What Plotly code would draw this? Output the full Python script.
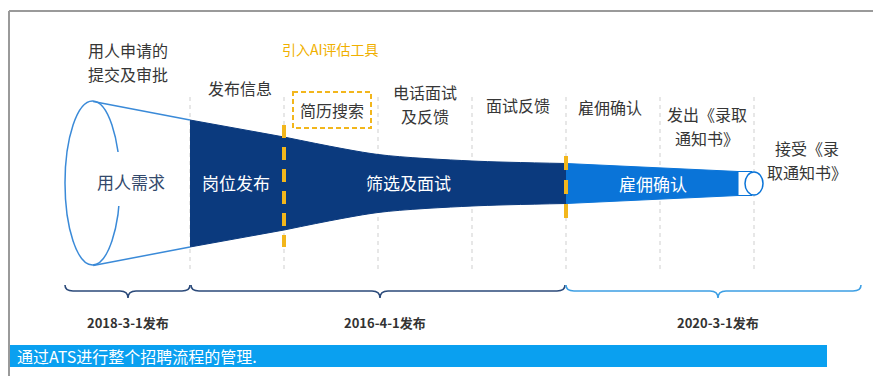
import plotly.graph_objects as go

# ---------------- data ----------------
step_labels = ["用人申请的<br>提交及审批", "发布信息", "简历搜索", "电话面试<br>及反馈",
               "面试反馈", "雇佣确认", "发出《录取<br>通知书》", "接受《录<br>取通知书》"]
phase_labels = ["用人需求", "岗位发布", "筛选及面试", "雇佣确认"]
release_labels = ["2018-3-1发布", "2016-4-1发布", "2020-3-1发布"]
ai_label = "引入AI评估工具"
banner_label = "通过ATS进行整个招聘流程的管理."

# funnel: stage index (boundary) and half-height of the funnel there
funnel_stage = [-1.03, 0, 1, 2, 3, 4, 5.83]
funnel_half = [82, 63.5, 46.5, 29, 22.5, 20, 12]

# ---------------- layout helpers (pixel -> axis) ----------------
W, H = 873, 376
X0, DX, CY = 190, 94, 183.5
def X(p): return (p - X0) / DX
def Y(p): return CY - p

FONT = "Noto Sans CJK SC"
NAVY = "#0b3a7e"
LBLUE = "#0a74d8"
EDGE = "#3a8ad8"
GOLD = "#f2b61c"

fig = go.Figure()

# dark section 1 (straight trapezoid)
xs = funnel_stage[1:3]
hs = funnel_half[1:3]
fig.add_trace(go.Scatter(x=xs + xs[::-1], y=hs + [-h for h in hs[::-1]], fill="toself",
                         fillcolor=NAVY, line=dict(color=NAVY, width=1), mode="lines",
                         hoverinfo="skip", showlegend=False))
# dark section 2 (curved)
xs = funnel_stage[2:6]
hs = funnel_half[2:6]
fig.add_trace(go.Scatter(x=xs, y=[-h for h in hs], mode="lines",
                         line=dict(color=NAVY, width=1, shape="spline", smoothing=0.8),
                         hoverinfo="skip", showlegend=False))
fig.add_trace(go.Scatter(x=xs, y=hs, mode="lines", fill="tonexty", fillcolor=NAVY,
                         line=dict(color=NAVY, width=1, shape="spline", smoothing=0.8),
                         hoverinfo="skip", showlegend=False))
# light blue section
xs = funnel_stage[5:7]
hs = funnel_half[5:7]
fig.add_trace(go.Scatter(x=xs + xs[::-1], y=hs + [-h for h in hs[::-1]], fill="toself",
                         fillcolor=LBLUE, line=dict(color=LBLUE, width=1), mode="lines",
                         hoverinfo="skip", showlegend=False))
# left outline lines (ellipse to dark section)
for s in (1, -1):
    fig.add_trace(go.Scatter(x=funnel_stage[0:2], y=[s * funnel_half[0], s * funnel_half[1]],
                             mode="lines", line=dict(color=EDGE, width=1.5),
                             hoverinfo="skip", showlegend=False))

shapes = []
# frame lines
shapes.append(dict(type="line", x0=X(9), x1=X(873), y0=Y(11), y1=Y(11), line=dict(color="#9a9a9a", width=2)))
shapes.append(dict(type="line", x0=X(9), x1=X(9), y0=Y(11), y1=Y(376), line=dict(color="#9a9a9a", width=2)))
# gray dashed stage separators
for k in range(7):
    shapes.append(dict(type="line", x0=k, x1=k, y0=Y(97), y1=Y(272), layer="below",
                       line=dict(color="#cfcfcf", width=1, dash="4px,4px")))
# left ellipse (with the gap in its right arc behind the label)
shapes.append(dict(type="circle", x0=X(65), x1=X(120), y0=Y(101), y1=Y(265),
                   line=dict(color=EDGE, width=1.5)))
shapes.append(dict(type="rect", x0=X(112), x1=X(124), y0=Y(152), y1=Y(206),
                   fillcolor="white", line=dict(width=0)))
# white end cap and right ellipse
end = funnel_stage[-1]
hend = funnel_half[-1]
shapes.append(dict(type="rect", x0=end, x1=X(752), y0=-hend, y1=hend, fillcolor="white",
                   line=dict(color=LBLUE, width=1)))
shapes.append(dict(type="circle", x0=X(745), x1=X(763), y0=Y(172), y1=Y(195),
                   fillcolor="white", line=dict(color=LBLUE, width=1.5)))
# yellow dashed markers
shapes.append(dict(type="line", x0=1, x1=1, y0=Y(125), y1=Y(247), layer="above",
                   line=dict(color=GOLD, width=4, dash="13px,9px")))
shapes.append(dict(type="line", x0=4, x1=4, y0=Y(156), y1=Y(222), layer="above",
                   line=dict(color=GOLD, width=4, dash="14px,10px")))
# dashed gold box around 简历搜索
shapes.append(dict(type="rect", x0=X(293), x1=X(371), y0=Y(92), y1=Y(128),
                   line=dict(color=GOLD, width=2, dash="5px,3px")))

# braces
def brace(x0, x1, xm, color):
    yt, ym, yb = 285, 291, 298
    p = (f"M {X(x0)},{Y(yt)} Q {X(x0)},{Y(ym)} {X(x0+8)},{Y(ym)} "
         f"L {X(xm-8)},{Y(ym)} Q {X(xm)},{Y(ym)} {X(xm)},{Y(yb)} "
         f"Q {X(xm)},{Y(ym)} {X(xm+8)},{Y(ym)} L {X(x1-8)},{Y(ym)} "
         f"Q {X(x1)},{Y(ym)} {X(x1)},{Y(yt)}")
    return dict(type="path", path=p, line=dict(color=color, width=1.6))
shapes.append(brace(65, 190, 128, "#2b4a7a"))
shapes.append(brace(191, 565, 380, "#2b4a7a"))
shapes.append(brace(566, 861, 718, "#3d9fe4"))

# banner
shapes.append(dict(type="rect", x0=X(9), x1=X(827), y0=Y(345), y1=Y(367),
                   fillcolor="#0aa0f0", line=dict(width=0), layer="below"))

ann = []
def txt(s, xp, yp, size, color, bold=False, xanchor="center"):
    ann.append(dict(text=f"<b>{s}</b>" if bold else s, x=X(xp), y=Y(yp), xanchor=xanchor,
                    yanchor="middle", showarrow=False,
                    font=dict(family=FONT, size=size, color=color)))

LINE = 23.5
step_pos = [(128, 62), (240, 88), (332, 110), (425, 104), (518, 105), (610, 107), (707, 126), (807, 160)]
for lab, (xp, yp) in zip(step_labels, step_pos):
    lines = lab.split("<br>")
    n = len(lines)
    for i, ln in enumerate(lines):
        txt(ln, xp, yp + (i - (n - 1) / 2) * LINE, 16, "#363636")
txt(ai_label, 330, 49, 14, "#f0b000")

phase_pos = [(131, 181), (236, 182), (408, 182), (653, 183)]
phase_col = ["#33496b", "white", "white", "white"]
for lab, (xp, yp), c in zip(phase_labels, phase_pos, phase_col):
    txt(lab, xp, yp, 17, c)

rel_pos = [(128, 322), (385, 322), (718, 322)]
for lab, (xp, yp) in zip(release_labels, rel_pos):
    txt(lab, xp, yp, 13, "#333333", bold=True)

txt(banner_label, 15, 356, 16, "white", xanchor="left")

fig.update_layout(
    width=W, height=H, margin=dict(l=0, r=0, t=0, b=0),
    paper_bgcolor="white", plot_bgcolor="white",
    xaxis=dict(range=[X(0), X(W)], visible=False, fixedrange=True),
    yaxis=dict(range=[Y(H), Y(0)], visible=False, fixedrange=True),
    shapes=shapes, annotations=ann, showlegend=False,
)
fig.write_html("out.html")
